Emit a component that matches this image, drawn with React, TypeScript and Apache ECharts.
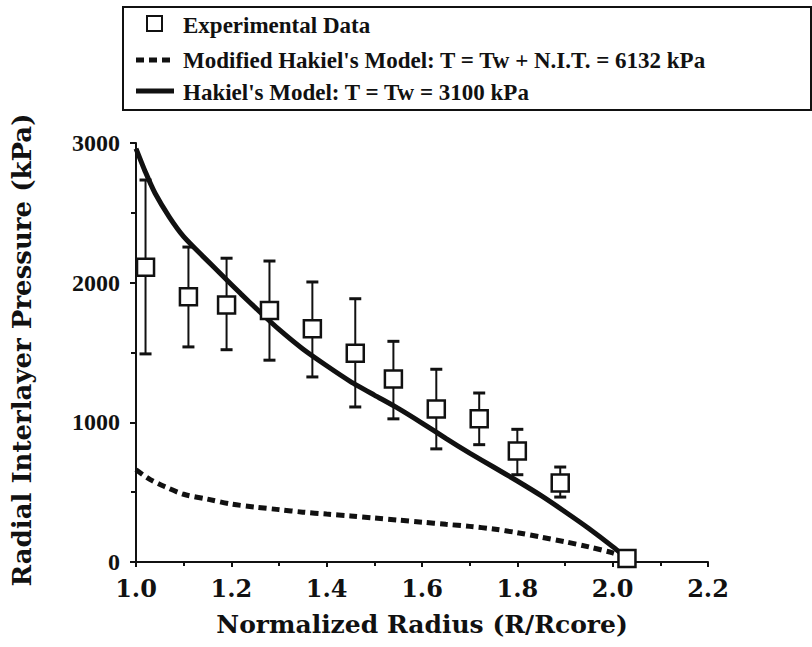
import React, { useEffect, useRef } from "react";
import * as echarts from "echarts";

// ---- data ----
const xTickLabels = ["1.0", "1.2", "1.4", "1.6", "1.8", "2.0", "2.2"];
const yTickLabels = ["0", "1000", "2000", "3000"];

const expRadius = [1.02, 1.11, 1.19, 1.28, 1.37, 1.46, 1.54, 1.63, 1.72, 1.8, 1.89, 2.03];
const expPressure = [2110, 1900, 1840, 1800, 1670, 1495, 1310, 1095, 1025, 795, 565, 25];
const expLow = [1490, 1540, 1520, 1445, 1325, 1110, 1025, 810, 840, 625, 465, null];
const expHigh = [2735, 2255, 2175, 2155, 2005, 1885, 1580, 1380, 1210, 950, 680, null];

const hakielRadius = [1.0, 1.02, 1.04, 1.07, 1.1, 1.14, 1.18, 1.22, 1.26, 1.3, 1.35, 1.4, 1.45, 1.5, 1.55, 1.6, 1.65, 1.7, 1.75, 1.8, 1.85, 1.9, 1.95, 2.0, 2.03];
const hakielPressure = [2960, 2790, 2640, 2470, 2330, 2190, 2055, 1920, 1790, 1665, 1525, 1405, 1292, 1195, 1100, 995, 885, 780, 680, 580, 475, 360, 240, 110, 25];

const modRadius = [1.0, 1.03, 1.06, 1.1, 1.15, 1.2, 1.25, 1.3, 1.35, 1.4, 1.45, 1.5, 1.55, 1.6, 1.65, 1.7, 1.75, 1.8, 1.85, 1.9, 1.95, 2.0, 2.02];
const modPressure = [660, 590, 540, 485, 450, 415, 393, 375, 357, 343, 330, 315, 300, 285, 270, 255, 236, 210, 178, 145, 108, 65, 40];

const legendLabels = [
  "Experimental Data",
  "Modified Hakiel's Model: T = Tw + N.I.T. = 6132 kPa",
  "Hakiel's Model: T = Tw = 3100 kPa",
];
const xAxisTitle = "Normalized Radius (R/Rcore)";
const yAxisTitle = "Radial Interlayer Pressure (kPa)";

const INK = "#111";
const SERIF_T = "'Liberation Serif', 'Times New Roman', serif";
const SERIF_W = "'DejaVu Serif', serif";

export default function App() {
  const ref = useRef<HTMLDivElement>(null);

  useEffect(() => {
    const chart = echarts.init(ref.current as HTMLDivElement, null, { renderer: "svg" });

    const expData = expRadius.map((r, i) => [r, expPressure[i]]);
    const errData: number[][] = [];
    expRadius.forEach((r, i) => {
      if (expLow[i] != null && expHigh[i] != null) errData.push([r, expLow[i] as number, expHigh[i] as number]);
    });
    const hakData = hakielRadius.map((r, i) => [r, hakielPressure[i]]);
    const modData = modRadius.map((r, i) => [r, modPressure[i]]);

    const option: any = {
      animation: false,
      backgroundColor: "#fff",
      grid: { left: 136, top: 143, width: 572, height: 419, containLabel: false },
      xAxis: {
        type: "value",
        min: 1.0,
        max: 2.2,
        interval: 0.2,
        axisLine: { lineStyle: { color: INK, width: 2 } },
        axisTick: { show: true, length: 5, inside: false, lineStyle: { color: INK, width: 2 } },
        minorTick: { show: true, splitNumber: 2, length: 4, lineStyle: { color: INK, width: 2 } },
        splitLine: { show: false },
        axisLabel: {
          margin: 14,
          color: INK,
          fontFamily: SERIF_W,
          fontWeight: "bold",
          fontSize: 24,
          formatter: (v: number) => {
            const l = xTickLabels.find((s) => Math.abs(parseFloat(s) - v) < 1e-6);
            return l ?? "";
          },
        },
      },
      yAxis: {
        type: "value",
        min: 0,
        max: 3000,
        interval: 1000,
        axisLine: { show: true, lineStyle: { color: INK, width: 2 } },
        axisTick: { show: true, length: 6, inside: false, lineStyle: { color: INK, width: 2 } },
        minorTick: { show: true, splitNumber: 2, length: 5, lineStyle: { color: INK, width: 2 } },
        splitLine: { show: false },
        axisLabel: {
          margin: 16,
          color: INK,
          fontFamily: SERIF_T,
          fontWeight: "bold",
          fontSize: 24,
          formatter: (v: number) => {
            const l = yTickLabels.find((s) => Math.abs(parseFloat(s) - v) < 1e-6);
            return l ?? "";
          },
        },
      },
      graphic: [
        { type: "rect", shape: { x: 123, y: 7, width: 688, height: 103 }, style: { fill: "none", stroke: INK, lineWidth: 2 } },
        { type: "rect", shape: { x: 147, y: 16, width: 15, height: 15 }, style: { fill: "#fff", stroke: INK, lineWidth: 2 } },
        { type: "line", shape: { x1: 136, y1: 60, x2: 174, y2: 60 }, style: { stroke: INK, lineWidth: 5, lineDash: [8, 5] } },
        { type: "line", shape: { x1: 136, y1: 91, x2: 174, y2: 91 }, style: { stroke: INK, lineWidth: 5 } },
        { type: "text", x: 183, y: 25, style: { text: legendLabels[0], font: `bold 23px ${SERIF_T}`, fill: INK, verticalAlign: "middle" } },
        { type: "text", x: 183, y: 60, style: { text: legendLabels[1], font: `bold 23px ${SERIF_T}`, fill: INK, verticalAlign: "middle" } },
        { type: "text", x: 183, y: 92, style: { text: legendLabels[2], font: `bold 23px ${SERIF_T}`, fill: INK, verticalAlign: "middle" } },
        { type: "text", x: 422, y: 624, style: { text: xAxisTitle, font: `bold 25px ${SERIF_W}`, fill: INK, align: "center", verticalAlign: "middle" } },
        { type: "text", x: 22, y: 350, rotation: Math.PI / 2, style: { text: yAxisTitle, font: `bold 26px ${SERIF_W}`, fill: INK, align: "center", verticalAlign: "middle" } },
      ],
      series: [
        {
          name: legendLabels[2],
          type: "line",
          data: hakData,
          smooth: 0.2,
          showSymbol: false,
          lineStyle: { color: INK, width: 5 },
          z: 2,
        },
        {
          name: legendLabels[1],
          type: "line",
          data: modData,
          smooth: 0.3,
          showSymbol: false,
          lineStyle: { color: INK, width: 5, type: [8, 5] },
          z: 2,
        },
        {
          type: "custom",
          data: errData,
          z: 3,
          renderItem: (params: any, api: any) => {
            const x = api.value(0);
            const pLo = api.coord([x, api.value(1)]);
            const pHi = api.coord([x, api.value(2)]);
            const hw = 6;
            const st = { stroke: INK, lineWidth: 2 };
            return {
              type: "group",
              children: [
                { type: "line", shape: { x1: pLo[0], y1: pLo[1], x2: pHi[0], y2: pHi[1] }, style: st },
                { type: "line", shape: { x1: pLo[0] - hw, y1: pLo[1], x2: pLo[0] + hw, y2: pLo[1] }, style: { stroke: INK, lineWidth: 3 } },
                { type: "line", shape: { x1: pHi[0] - hw, y1: pHi[1], x2: pHi[0] + hw, y2: pHi[1] }, style: { stroke: INK, lineWidth: 3 } },
              ],
            };
          },
        },
        {
          name: legendLabels[0],
          type: "scatter",
          data: expData,
          symbol: "rect",
          symbolSize: 17,
          itemStyle: { color: "#fff", borderColor: INK, borderWidth: 2.5, opacity: 1 },
          z: 4,
        },
      ],
    };

    chart.setOption(option);
    return () => chart.dispose();
  }, []);

  return (
    <div
      ref={ref}
      style={{ position: "absolute", left: 0, top: 0, width: 812, height: 647, background: "#fff" }}
    />
  );
}
